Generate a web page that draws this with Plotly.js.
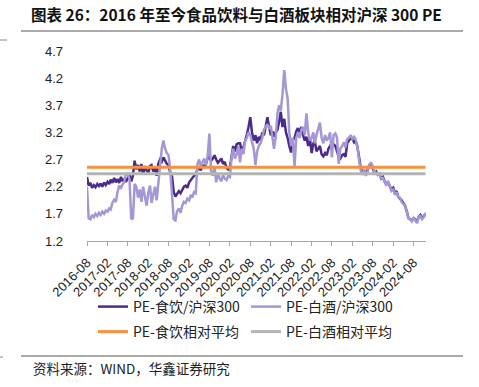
<!DOCTYPE html>
<html>
<head>
<meta charset="utf-8">
<script src="https://cdn.plot.ly/plotly-3.0.1.min.js"></script>
<style>html,body{margin:0;padding:0;background:#fff;}#chart{width:479px;height:387px;}</style>
</head>
<body>
<div id="chart"></div>
<script>
// ---- data (two readings per month, from 2016-08 to 2024-11) ----
const startYear = 2016, startMonth = 8, monthCount = 100;
const seriesNames = ['PE-食饮/沪深300', 'PE-白酒/沪深300', 'PE-食饮相对平均', 'PE-白酒相对平均'];
const foodPE = [
2.38,2.22, 2.27,2.18, 2.23,2.19, 2.25,2.21, 2.26,2.20, 2.28,2.23, 2.29,2.25, 2.33,2.27, 2.36,2.28, 2.34,2.27,
2.38,2.30, 2.34,2.29, 2.36,2.42, 2.30,2.40, 2.68,2.52, 2.60,2.48, 2.62,2.42, 2.58,2.50, 2.46,2.58, 2.60,2.48,
2.55,2.40, 2.62,2.70, 2.66,2.74, 2.68,2.62, 2.60,2.45, 2.38,2.10, 2.02,2.08, 2.12,2.08, 2.15,2.20, 2.22,2.18,
2.28,2.32, 2.35,2.40, 2.42,2.52, 2.55,2.50, 2.60,2.55, 2.62,2.72, 2.75,2.68, 2.72,2.78, 2.70,2.64, 2.68,2.72,
2.62,2.66, 2.55,2.52, 2.56,2.82, 2.95,2.85, 2.98,3.00, 3.00,2.86, 2.92,3.05, 3.15,3.30, 3.48,3.20, 3.05,3.15,
3.00,3.12, 3.05,3.20, 3.15,3.30, 3.48,3.30, 3.15,3.22, 3.12,3.20, 3.25,3.40, 3.58,3.30, 3.45,3.20, 3.10,2.95,
2.83,3.05, 3.10,3.22, 3.28,3.20, 3.30,3.15, 3.05,3.12, 2.95,3.10, 2.82,3.00, 3.05,2.85, 2.90,2.95, 2.80,2.76,
2.82,2.78, 2.90,2.95, 2.92,2.98, 2.95,2.85, 2.75,2.72, 2.78,2.80, 2.75,3.00, 3.05,3.10, 3.08,3.02, 3.05,2.95,
2.75,2.55, 2.45,2.50, 2.42,2.50, 2.60,2.62, 2.55,2.45, 2.48,2.42, 2.44,2.35, 2.38,2.30, 2.25,2.28, 2.20,2.15,
2.18,2.08, 2.12,2.02, 1.98,1.95, 1.90,1.85, 1.75,1.62, 1.60,1.58, 1.62,1.60, 1.55,1.65, 1.68,1.62, 1.66,1.70
];
const liquorPE = [
2.20,1.62, 1.60,1.68, 1.64,1.70, 1.66,1.72, 1.68,1.74, 1.70,1.76, 1.74,1.80, 1.78,1.90, 1.96,1.92, 2.10,2.22,
2.18,2.24, 2.30,2.45, 2.42,2.35, 1.60,1.62, 2.25,2.20, 2.00,2.15, 1.92,2.20, 2.00,1.85, 2.10,2.22, 1.90,2.08,
2.20,1.95, 2.25,2.60, 2.90,3.05, 2.90,2.82, 2.78,2.50, 2.00,1.60, 1.58,1.75, 1.80,1.72, 1.85,1.92, 1.90,1.98,
1.95,2.05, 2.00,2.10, 2.08,2.62, 2.70,2.58, 2.65,2.72, 2.60,2.75, 3.18,2.50, 2.40,2.56, 2.28,2.45, 2.35,2.30,
2.42,2.35, 2.32,2.40, 2.38,2.75, 2.90,2.72, 2.80,2.95, 2.65,2.90, 2.80,3.05, 3.10,3.20, 3.15,3.00, 2.90,2.60,
2.85,2.95, 3.00,3.10, 3.25,3.30, 3.35,3.28, 3.32,3.10, 2.90,3.10, 3.55,3.70, 3.60,3.90, 4.35,4.00, 3.83,3.20,
2.95,3.10, 2.58,3.10, 3.20,3.10, 3.25,3.30, 3.15,3.55, 3.20,3.05, 3.10,3.20, 3.00,3.15, 3.25,3.38, 3.10,3.00,
3.15,3.05, 3.10,3.20, 2.74,3.15, 3.18,3.10, 2.62,2.90, 2.95,3.02, 2.92,3.08, 3.10,3.15, 3.08,3.12, 3.08,2.95,
2.70,2.50, 2.42,2.52, 2.40,2.48, 2.60,2.65, 2.58,2.48, 2.45,2.42, 2.42,2.35, 2.36,2.28, 2.22,2.30, 2.18,2.12,
2.15,2.05, 2.10,2.02, 2.00,1.92, 1.88,1.84, 1.75,1.62, 1.60,1.56, 1.62,1.58, 1.53,1.66, 1.66,1.60, 1.64,1.72
];
const foodAvg = 2.56;
const liquorAvg = 2.44;
const yTicks = [1.2, 1.7, 2.2, 2.7, 3.2, 3.7, 4.2, 4.7];
const titleText = '图表 26：2016 年至今食品饮料与白酒板块相对沪深 300 PE';
const sourceText = '资料来源：WIND，华鑫证券研究';

// ---- build dates (1st and 16th of each month) ----
const dates = [];
for (let i = 0; i < monthCount; i++) {
  const y = startYear + Math.floor((startMonth - 1 + i) / 12);
  const m = ((startMonth - 1 + i) % 12) + 1;
  const mm = (m < 10 ? '0' : '') + m;
  dates.push(y + '-' + mm + '-01', y + '-' + mm + '-16');
}
const xEnd = dates[dates.length - 1];

// ---- layout geometry ----
const W = 479, H = 387;
const L = 87, R = 426, T = 51, B = 241;
const px = v => (v - L) / (R - L);
const py = v => (B - v) / (B - T);
const CJK = '"Noto Sans CJK SC", "Liberation Sans", sans-serif';
const LAT = '"Liberation Sans", Arial, sans-serif';

const traces = [
  {x: dates, y: foodPE, name: seriesNames[0], mode: 'lines', line: {color: '#4b2a88', width: 2.5}, legend: 'legend'},
  {x: dates, y: liquorPE, name: seriesNames[1], mode: 'lines', line: {color: '#a497d6', width: 2.5}, legend: 'legend'},
  {x: [dates[0], xEnd], y: [foodAvg, foodAvg], name: seriesNames[2], mode: 'lines', line: {color: '#f7913d', width: 3}, legend: 'legend2'},
  {x: [dates[0], xEnd], y: [liquorAvg, liquorAvg], name: seriesNames[3], mode: 'lines', line: {color: '#b4b4b4', width: 3}, legend: 'legend2'}
];

const legendCommon = {
  orientation: 'h', xanchor: 'left', yanchor: 'middle',
  font: {family: CJK, size: 14, color: '#222'},
  bgcolor: 'rgba(0,0,0,0)', itemclick: false, itemdoubleclick: false,
  entrywidth: 108, entrywidthmode: 'pixels', tracegroupgap: 0
};

const layout = {
  width: W, height: H,
  margin: {l: L, r: W - R, t: T, b: H - B, pad: 0},
  paper_bgcolor: '#fff', plot_bgcolor: '#fff',
  showlegend: true,
  title: {
    text: '<b>' + titleText + '</b>',
    font: {family: CJK, size: 15.5, color: '#111'},
    x: 31 / W, xanchor: 'left', xref: 'container',
    y: 1 - 16 / H, yanchor: 'middle', yref: 'container'
  },
  xaxis: {
    type: 'date',
    range: [dates[0], '2024-11-20'],
    tick0: '2016-08-01', dtick: 'M6', tickformat: '%Y-%m',
    tickangle: -45,
    ticks: 'outside', ticklen: 4, tickcolor: '#a6a6a6', tickwidth: 1,
    showline: true, linecolor: '#a6a6a6', linewidth: 1,
    showgrid: false, zeroline: false,
    ticklabelstandoff: 4,
    tickfont: {family: LAT, size: 13, color: '#222'}
  },
  yaxis: {
    range: [1.2, 4.7],
    tickvals: yTicks, ticktext: yTicks.map(v => v.toFixed(1)),
    showline: false, showgrid: false, zeroline: false, ticks: '',
    ticklabelstandoff: 23,
    tickfont: {family: LAT, size: 13, color: '#222'}
  },
  legend: Object.assign({}, legendCommon, {x: px(93), y: py(307)}),
  legend2: Object.assign({}, legendCommon, {x: px(93), y: py(332)}),
  shapes: [
    {type: 'line', xref: 'paper', yref: 'paper', x0: px(21), x1: px(463), y0: py(31), y1: py(31), line: {color: '#555', width: 1}},
    {type: 'line', xref: 'paper', yref: 'paper', x0: px(21), x1: px(463), y0: py(356), y1: py(356), line: {color: '#555', width: 1}},
    {type: 'line', xref: 'paper', yref: 'paper', x0: px(0), x1: px(7), y0: py(40), y1: py(40), line: {color: '#888', width: 1}},
    {type: 'line', xref: 'paper', yref: 'paper', x0: px(0), x1: px(3), y0: py(357), y1: py(357), line: {color: '#888', width: 1}}
  ],
  annotations: [
    {text: sourceText, xref: 'paper', yref: 'paper', x: px(31), y: py(368), xanchor: 'left', yanchor: 'middle',
     showarrow: false, font: {family: CJK, size: 13.5, color: '#222'}}
  ]
};

Plotly.newPlot('chart', traces, layout, {displayModeBar: false, staticPlot: true});
</script>
</body>
</html>
